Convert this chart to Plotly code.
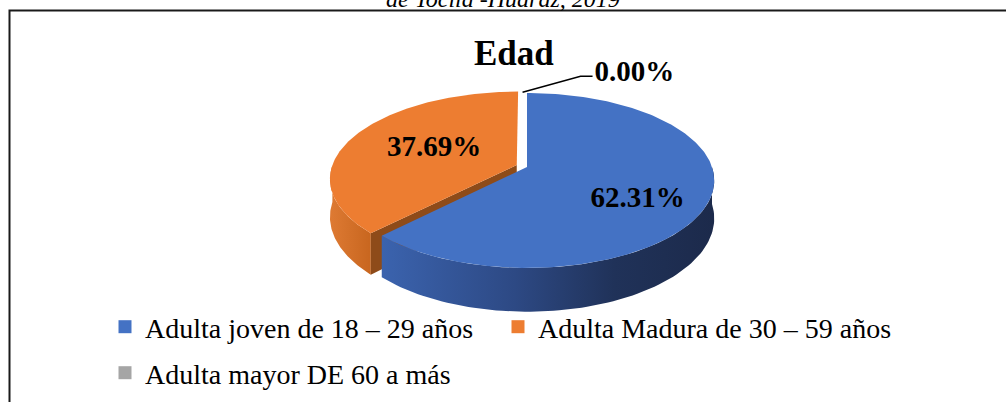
import numpy as np
import plotly.graph_objects as go

# ---------------- data ----------------
categories = ["Adulta joven de 18 – 29 años",
              "Adulta Madura de 30 – 59 años",
              "Adulta mayor DE 60 a más"]
values = [62.31, 37.69, 0.00]
top_colors = ["#4472C4", "#ED7D31", "#A5A5A5"]
cut_colors = ["#2F5597", "#8E4B19", "#7B7B7B"]
side_scales = [
    [[0, "#3B63AE"], [0.4, "#2D4984"], [0.7, "#203259"], [1, "#1C2A4B"]],
    [[0, "#DE7A33"], [1, "#C8661F"]],
    [[0, "#9A9A9A"], [1, "#6E6E6E"]],
]
explode = [0.0, 0.06, 0.0]
label_nudge = [(4, 13), (16, 2), (0, 0)]
title_text = "Edad"
caption_text = "de Tocllá -Huaraz, 2019"

# ---------------- geometry (pixel space) ----------------
W, H = 1006, 402
CX, CY = 527, 167          # projected centre of the top face
A, B = 185, 85.4           # radii of the projected disc
DEPTH = 37                 # thickness of the pie
K = 0.154                  # perspective strength


def proj(u, v, h=0.0):
    w = 1.0 / (1.0 - K * v)
    return CX + A * u * w, CY + (B * v + DEPTH * h) * w


def arc(t0, t1, ex, ev, h, n=90):
    t = np.radians(np.linspace(t0, t1, n))
    return proj(np.sin(t) + ex, -np.cos(t) + ev, h)


total = sum(values)
cum = np.concatenate([[0], np.cumsum(values)])
angles = [(360 * cum[i] / total, 360 * cum[i + 1] / total) for i in range(len(values))]

fig = go.Figure()

label_pts = []
for i in reversed(range(len(values))):
    t0, t1 = angles[i]
    mid = np.radians((t0 + t1) / 2)
    ex, ev = explode[i] * np.sin(mid), -explode[i] * np.cos(mid)
    label_pts.append((i, ex, ev, mid))
    if values[i] <= 0:
        continue
    # visible side (front half)
    s0, s1 = max(t0, 90), min(t1, 270)
    if s1 > s0:
        xt, yt = arc(s0, s1, ex, ev, 0)
        xb, yb = arc(s1, s0, ex, ev, 1)
        fig.add_trace(go.Scatter(
            x=np.concatenate([xt, xb, xt[:1]]), y=np.concatenate([yt, yb, yt[:1]]),
            mode="lines", fill="toself", line=dict(width=0),
            fillgradient=dict(type="horizontal", colorscale=side_scales[i]),
            hoverinfo="skip", showlegend=False))
    # cut faces facing the viewer
    for t, vis in ((t0, -np.sin(np.radians(t0)) > 1e-6), (t1, np.sin(np.radians(t1)) > 1e-6)):
        if vis:
            r = np.radians(t)
            ux, vy = np.sin(r), -np.cos(r)
            p = [proj(ex, ev, 0), proj(ux + ex, vy + ev, 0), proj(ux + ex, vy + ev, 1), proj(ex, ev, 1)]
            fig.add_trace(go.Scatter(
                x=[q[0] for q in p] + [p[0][0]], y=[q[1] for q in p] + [p[0][1]],
                mode="lines", fill="toself", fillcolor=cut_colors[i], line=dict(width=0),
                hoverinfo="skip", showlegend=False))
    # top face
    xa, ya = arc(t0, t1, ex, ev, 0, 200)
    vx, vy = proj(ex, ev, 0)
    fig.add_trace(go.Scatter(
        x=np.concatenate([[vx], xa, [vx]]), y=np.concatenate([[vy], ya, [vy]]),
        mode="lines", fill="toself", fillcolor=top_colors[i], line=dict(width=0),
        hoverinfo="skip", showlegend=False))

# ---------------- data labels ----------------
lab_x, lab_y, lab_t = [], [], []
for i, ex, ev, mid in label_pts:
    txt = f"{values[i]:.2f}%"
    if values[i] > 0:
        x, y = proj(0.6 * np.sin(mid) + ex, -0.6 * np.cos(mid) + ev, 0)
        lab_x.append(x + label_nudge[i][0])
        lab_y.append(y + label_nudge[i][1])
        lab_t.append(txt)
    else:
        # leader line for the empty slice
        ex_o = explode[1] * np.sin(np.radians(sum(angles[1]) / 2))
        ev_o = -explode[1] * np.cos(np.radians(sum(angles[1]) / 2))
        sx, sy = proj(0.5 * ex_o, -1 + 0.5 * ev_o, 0)
        ex1, ey1 = sx + 58, sy - 16
        ex2 = ex1 + 12
        fig.add_trace(go.Scatter(x=[sx, ex1, ex2], y=[sy, ey1, ey1], mode="lines",
                                 line=dict(color="black", width=1.5),
                                 hoverinfo="skip", showlegend=False))
        fig.add_trace(go.Scatter(x=[ex2 + 2], y=[ey1 - 3], mode="text", text=[txt],
                                 textposition="middle right",
                                 textfont=dict(family="Liberation Serif", size=29,
                                               color="black", weight="bold"),
                                 hoverinfo="skip", showlegend=False))

fig.add_trace(go.Scatter(x=lab_x, y=lab_y, mode="text", text=lab_t,
                         textposition="middle center",
                         textfont=dict(family="Liberation Serif", size=29,
                                       color="black", weight="bold"),
                         hoverinfo="skip", showlegend=False))

# ---------------- legend entries ----------------
for i, name in enumerate(categories):
    fig.add_trace(go.Scatter(
        x=[None], y=[None], mode="markers", name=name,
        marker=dict(symbol="square", size=13, color=top_colors[i]),
        legend="legend" if i < 2 else "legend2"))

legend_common = dict(orientation="h", xanchor="left", yanchor="middle",
                     font=dict(family="Liberation Serif", size=28, color="black"),
                     bgcolor="rgba(0,0,0,0)", itemwidth=30, traceorder="normal")

fig.update_layout(
    width=W, height=H,
    margin=dict(l=0, r=0, t=0, b=0),
    paper_bgcolor="white", plot_bgcolor="white",
    xaxis=dict(range=[0, W], visible=False, fixedrange=True),
    yaxis=dict(range=[H, 0], visible=False, fixedrange=True),
    legend=dict(x=105 / W, y=1 - 327 / H, entrywidth=348, entrywidthmode="pixels",
                **legend_common),
    legend2=dict(x=105 / W, y=1 - 373 / H, **legend_common),
    shapes=[dict(type="rect", xref="paper", yref="paper",
                 x0=9.5 / W, x1=1.02, y0=-0.05, y1=1 - 10.5 / H,
                 line=dict(color="#1a1a1a", width=2), layer="below")],
    annotations=[
        dict(text=f"<b>{title_text}</b>", x=514 / W, y=1 - 53 / H, xref="paper", yref="paper",
             showarrow=False, xanchor="center", yanchor="middle",
             font=dict(family="Liberation Serif", size=35, color="black")),
        dict(text=f"<i>{caption_text}</i>", x=503 / W, y=1 - 14 / H, xref="paper", yref="paper",
             showarrow=False, xanchor="center", yanchor="bottom",
             font=dict(family="Liberation Serif", size=24, color="black")),
    ],
)

fig.write_html("out.html", config={"displayModeBar": False},
               post_script="document.body.style.margin='0';document.body.style.overflow='hidden';")
